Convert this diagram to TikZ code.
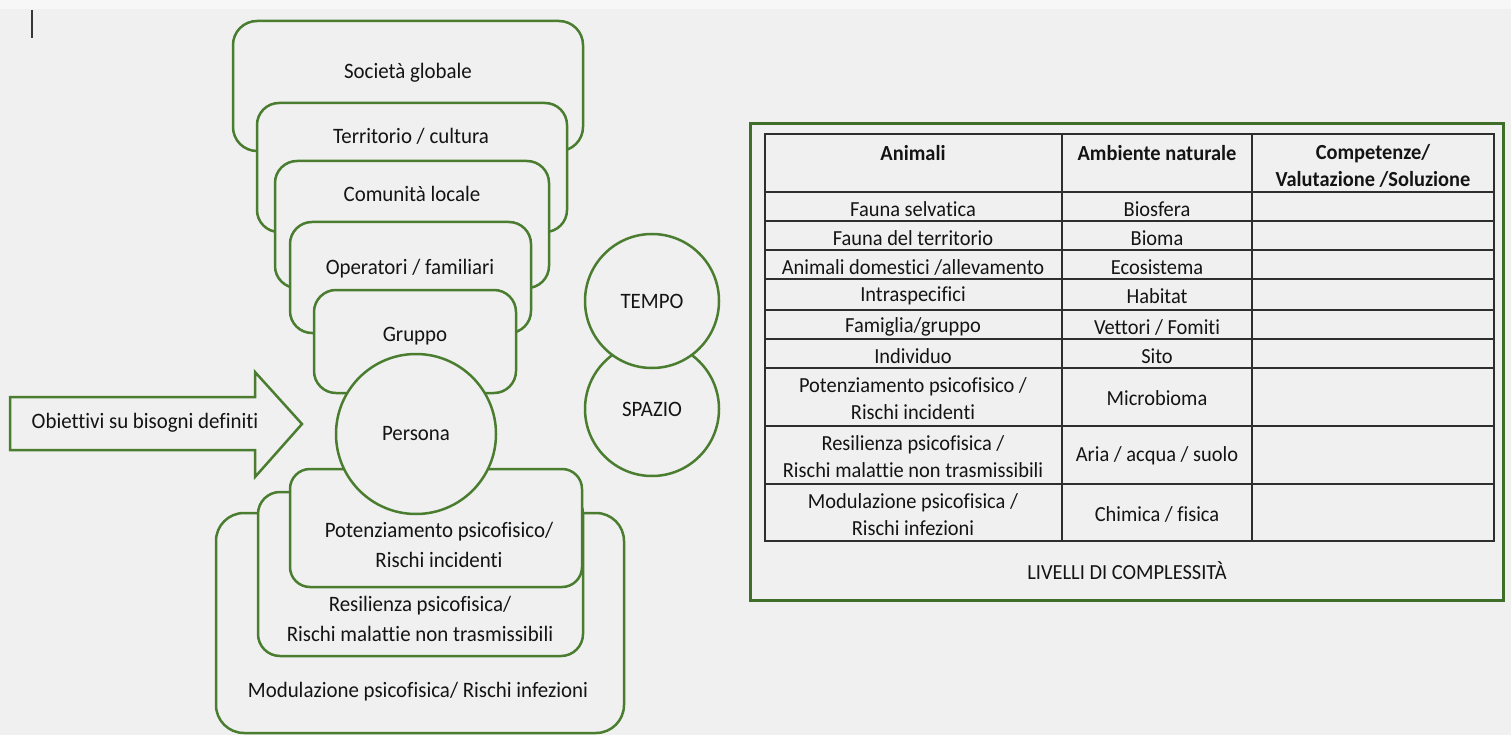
\documentclass[tikz,border=0pt]{standalone}
\usepackage{fontspec}
\setmainfont{Carlito}[Ligatures=NoCommon,FakeStretch=0.95]
\usetikzlibrary{fit}
\definecolor{paper}{HTML}{F0F0F0}
\definecolor{paperhi}{HTML}{F7F7F7}
\definecolor{leaf}{HTML}{4A7D2F}
\definecolor{framegreen}{HTML}{3F6E29}
\definecolor{ink}{HTML}{141414}
\definecolor{rulegray}{HTML}{2E2E2E}
\begin{document}
\begin{tikzpicture}[x=1pt,y=-1pt,
  tier/.style={draw=leaf,line width=2.5pt,fill=paper,rounded corners=#1,inner sep=0pt},
  ring/.style={draw=leaf,line width=2.5pt,fill=paper,circle,inner sep=0pt,
    minimum size=#1,text=ink,font=\fontsize{22}{30}\selectfont},
  txt/.style={text=ink,font=\fontsize{22}{30}\selectfont,align=center,inner sep=0pt},
  cell/.style={text=ink,font=\fontsize{21.5}{27}\selectfont,align=center,inner sep=0pt},
  headcell/.style={cell,font=\bfseries\fontsize{21.5}{27}\selectfont},
  rulestyle/.style={draw=rulegray,line width=1.8pt}
]
% page
\fill[paper] (0,0) rectangle (1511,735);
\useasboundingbox (0,0) rectangle (1511,735);
\fill[paperhi] (0,0) rectangle (1511,9);
\draw[ink!85,line width=1.3pt] (32,10) -- (32,38);

% upper layers, widest first
\node[tier=24pt,fit={(233,21) (583,151)}] (b1) {};
\node[tier=22pt,fit={(257,103) (567,232)}] (b2) {};
\node[tier=22pt,fit={(275,161) (549,288)}] (b3) {};
\node[tier=22pt,fit={(290,222) (531,333)}] (b4) {};
\node[tier=22pt,fit={(314,290) (516,393)}] (b5) {};
\node[txt] (t1) at (408,73) {Società globale};
\node[txt] (t2) at (411,136) {Territorio / cultura};
\node[txt] (t3) at (412,194) {Comunità locale};
\node[txt] (t4) at (410,269) {Operatori / familiari};
\node[txt] (t5) at (415,336) {Gruppo};

% lower layers
\node[tier=28pt,fit={(216,513) (624,733)}] (b8) {};
\node[tier=22pt,fit={(258,492) (583,656)}] (b7) {};
\node[tier=20pt,fit={(290,469) (582,587)}] (b6) {};
\node[txt] (t6) at (439,545) {Potenziamento psicofisico/\\Rischi incidenti};
\node[txt] (t7) at (420,619) {Resilienza psicofisica/\\Rischi malattie non trasmissibili};
\node[txt] (t8) at (418,692) {Modulazione psicofisica/ Rischi infezioni};

% centre
\node[ring=160pt] (persona) at (416,434) {Persona};

% goal arrow
\filldraw[draw=leaf,line width=2.5pt,fill=paper,line join=miter]
  (10,397) -- (255,397) -- (255,372) -- (302,424) -- (255,477) -- (255,450) -- (10,450) -- cycle;
\node[txt] (goal) at (145,423) {Obiettivi su bisogni definiti};

% time and space
\node[ring=134pt] (spazio) at (652,409) {SPAZIO};
\node[ring=134pt] (tempo) at (652,301) {TEMPO};

% levels table
\node[draw=framegreen,line width=3pt,inner sep=0pt,fit={(750,124) (1503,600)}] (frame) {};
\draw[rulestyle] (765,134) rectangle (1494,541);
\foreach \y in {192,221,250,279,310,339,368,426,484}
  \draw[rulestyle] (765,\y) -- (1494,\y);
\draw[rulestyle] (1062,134) -- (1062,541);
\draw[rulestyle] (1252,134) -- (1252,541);

\node[headcell] (h1) at (913,153) {Animali};
\node[headcell] (h2) at (1157,153) {Ambiente naturale};
\node[headcell] (h3) at (1373,166) {Competenze/\\Valutazione /Soluzione};

\node[cell] (a1) at (913,209) {Fauna selvatica};
\node[cell] (n1) at (1157,209) {Biosfera};
\node[cell] (a2) at (913,238) {Fauna del territorio};
\node[cell] (n2) at (1157,238) {Bioma};
\node[cell] (a3) at (913,267) {Animali domestici /allevamento};
\node[cell] (n3) at (1157,267) {Ecosistema};
\node[cell] (a4) at (913,296) {Intraspecifici};
\node[cell] (n4) at (1157,296) {Habitat};
\node[cell] (a5) at (913,327) {Famiglia/gruppo};
\node[cell] (n5) at (1157,327) {Vettori / Fomiti};
\node[cell] (a6) at (913,356) {Individuo};
\node[cell] (n6) at (1157,356) {Sito};
\node[cell] (a7) at (913,399) {Potenziamento psicofisico /\\Rischi incidenti};
\node[cell] (n7) at (1157,398) {Microbioma};
\node[cell] (a8) at (913,457) {Resilienza psicofisica /\\Rischi malattie non trasmissibili};
\node[cell] (n8) at (1157,456) {Aria / acqua / suolo};
\node[cell] (a9) at (913,515) {Modulazione psicofisica /\\Rischi infezioni};
\node[cell] (n9) at (1157,514) {Chimica / fisica};

\node[cell] (levels) at (1127,571) {LIVELLI DI COMPLESSITÀ};
\end{tikzpicture}
\end{document}
